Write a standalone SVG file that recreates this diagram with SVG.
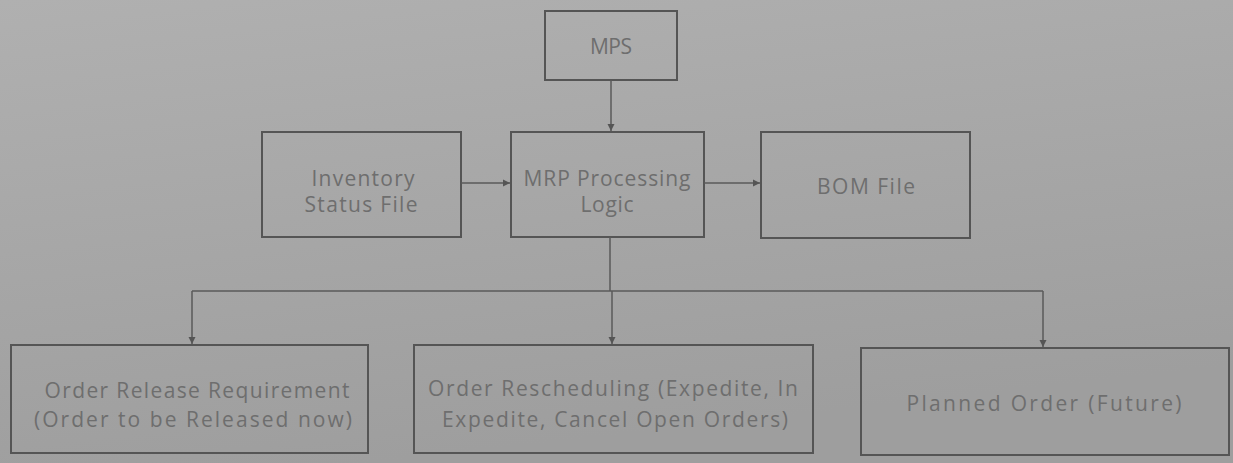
<svg xmlns="http://www.w3.org/2000/svg" width="1233" height="463" viewBox="0 0 1233 463">
  <defs>
    <linearGradient id="paper" x1="0" y1="0" x2="0.3" y2="1">
      <stop offset="0" stop-color="#b0b0b0"/>
      <stop offset="1" stop-color="#9e9e9e"/>
    </linearGradient>
    <marker id="arrow" viewBox="0 0 10 10" refX="10" refY="5" markerWidth="7" markerHeight="8" orient="auto" markerUnits="userSpaceOnUse">
      <path d="M0,0 L10,5 L0,10 z" fill="#555"/>
    </marker>
    <style>
      .box { fill: none; stroke: #555; stroke-width: 2; }
      .lbl { font-family: "Open Sans", "DejaVu Sans", sans-serif; font-size: 21px; fill: #6e6e6e; text-anchor: middle; }
      .link { fill: none; stroke: #5a5a5a; stroke-width: 1.5; }
    </style>
  </defs>

  <rect width="1233" height="463" fill="url(#paper)"/>

  <g id="mps">
    <rect class="box" x="545" y="11" width="132" height="69"/>
    <text class="lbl" x="611" y="54" textLength="42" lengthAdjust="spacing">MPS</text>
  </g>

  <g id="inventory">
    <rect class="box" x="262" y="132" width="199" height="105"/>
    <text class="lbl" x="363" y="186" textLength="103" lengthAdjust="spacing">Inventory</text>
    <text class="lbl" x="361" y="212" textLength="113" lengthAdjust="spacing">Status File</text>
  </g>

  <g id="mrp">
    <rect class="box" x="511" y="132" width="193" height="105"/>
    <text class="lbl" x="607" y="186" textLength="167" lengthAdjust="spacing">MRP Processing</text>
    <text class="lbl" x="607" y="212" textLength="53" lengthAdjust="spacing">Logic</text>
  </g>

  <g id="bom">
    <rect class="box" x="761" y="132" width="209" height="106"/>
    <text class="lbl" x="866" y="194" textLength="98" lengthAdjust="spacing">BOM File</text>
  </g>

  <g id="release">
    <rect class="box" x="11" y="345" width="357" height="108"/>
    <text class="lbl" x="197" y="398" textLength="305" lengthAdjust="spacing">Order Release Requirement</text>
    <text class="lbl" x="193" y="427" textLength="318" lengthAdjust="spacing">(Order to be Released now)</text>
  </g>

  <g id="reschedule">
    <rect class="box" x="414" y="345" width="399" height="108"/>
    <text class="lbl" x="613" y="396" textLength="370" lengthAdjust="spacing">Order Rescheduling (Expedite, In</text>
    <text class="lbl" x="615" y="427" textLength="346" lengthAdjust="spacing">Expedite, Cancel Open Orders)</text>
  </g>

  <g id="planned">
    <rect class="box" x="861" y="348" width="368" height="107"/>
    <text class="lbl" x="1044" y="411" textLength="275" lengthAdjust="spacing">Planned Order (Future)</text>
  </g>

  <g id="connectors">
    <line class="link" x1="611" y1="80" x2="611" y2="131" marker-end="url(#arrow)"/>
    <line class="link" x1="461" y1="183" x2="510" y2="183" marker-end="url(#arrow)"/>
    <line class="link" x1="704" y1="183" x2="760" y2="183" marker-end="url(#arrow)"/>
    <polyline class="link" points="610,237 610,291"/>
    <polyline class="link" points="192,291 1043,291"/>
    <line class="link" x1="192" y1="291" x2="192" y2="344" marker-end="url(#arrow)"/>
    <line class="link" x1="612" y1="291" x2="612" y2="344" marker-end="url(#arrow)"/>
    <line class="link" x1="1043" y1="291" x2="1043" y2="347" marker-end="url(#arrow)"/>
  </g>
</svg>
